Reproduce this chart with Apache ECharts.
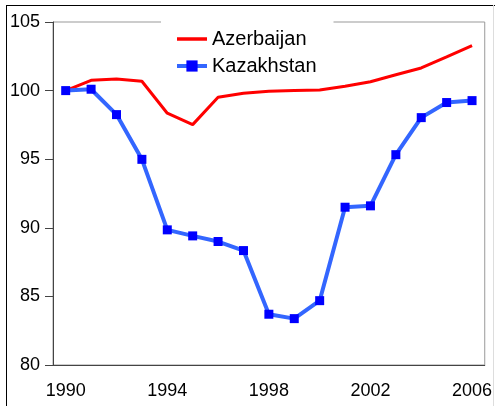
<!DOCTYPE html>
<html>
<head>
<meta charset="utf-8">
<script src="https://cdn.jsdelivr.net/npm/echarts@6/dist/echarts.min.js"></script>
<style>
  html, body { margin: 0; padding: 0; background: #fff; }
  #chart { width: 495px; height: 406px; }
</style>
</head>
<body>
<div id="chart"></div>
<script>
'use strict';
const years = ['1990', '1991', '1992', '1993', '1994', '1995', '1996', '1997', '1998',
  '1999', '2000', '2001', '2002', '2003', '2004', '2005', '2006'];
const azerbaijan = [100.0, 100.75, 100.85, 100.68, 98.35, 97.52, 99.51, 99.8, 99.95,
  100.0, 100.05, 100.32, 100.65, 101.15, 101.65, 102.45, 103.28];
const kazakhstan = [100.0, 100.1, 98.25, 94.99, 89.85, 89.41, 89.0, 88.34, 83.7,
  83.38, 84.69, 91.5, 91.6, 95.33, 98.03, 99.13, 99.27];

const chart = echarts.init(document.getElementById('chart'));
const font = 'Liberation Sans';

chart.setOption({
  animation: false,
  textStyle: { fontFamily: font },
  graphic: [
    // outer frame
    { type: 'line', shape: { x1: 6, y1: 5.5, x2: 495, y2: 5.5 }, style: { stroke: '#000', lineWidth: 1 } },
    { type: 'line', shape: { x1: 6.5, y1: 5, x2: 6.5, y2: 406 }, style: { stroke: '#000', lineWidth: 1 } },
    { type: 'line', shape: { x1: 493.5, y1: 5, x2: 493.5, y2: 406 }, style: { stroke: '#ddd', lineWidth: 1 } }
  ],
  grid: {
    left: 53, right: 8, top: 22, bottom: 41,
    show: true, borderColor: '#999', borderWidth: 1
  },
  legend: {
    orient: 'vertical',
    left: 161, top: 19,
    padding: [10, 17, 4, 14],
    backgroundColor: '#fff',
    itemWidth: 30, itemHeight: 14, itemGap: 7,
    textStyle: { fontSize: 20, color: '#000', fontFamily: font },
    data: [
      { name: 'Azerbaijan', itemStyle: { opacity: 0 }, lineStyle: { width: 3.5 } },
      { name: 'Kazakhstan', lineStyle: { width: 4 } }
    ]
  },
  xAxis: {
    type: 'category',
    data: years,
    boundaryGap: true,
    axisLine: { lineStyle: { color: '#444', width: 1 } },
    axisTick: { interval: 0, length: 7, lineStyle: { color: '#444' } },
    axisLabel: { interval: 3, fontSize: 18, color: '#000', margin: 17, fontFamily: font },
    splitLine: { show: false }
  },
  yAxis: {
    type: 'value',
    min: 80, max: 105, interval: 5,
    axisLine: { show: true, lineStyle: { color: '#444', width: 1 } },
    axisTick: { show: true, length: 8, lineStyle: { color: '#444' } },
    axisLabel: { fontSize: 18, color: '#000', margin: 13, fontFamily: font },
    splitLine: { show: false }
  },
  series: [
    {
      name: 'Azerbaijan',
      type: 'line',
      data: azerbaijan,
      symbol: 'none',
      lineStyle: { color: '#ff0000', width: 3 },
      itemStyle: { color: '#ff0000' },
      z: 2
    },
    {
      name: 'Kazakhstan',
      type: 'line',
      data: kazakhstan,
      symbol: 'rect',
      symbolSize: 9,
      showSymbol: true,
      lineStyle: { color: '#3366ff', width: 4 },
      itemStyle: { color: '#0000ff', borderWidth: 0 },
      z: 3
    }
  ]
});
</script>
</body>
</html>
